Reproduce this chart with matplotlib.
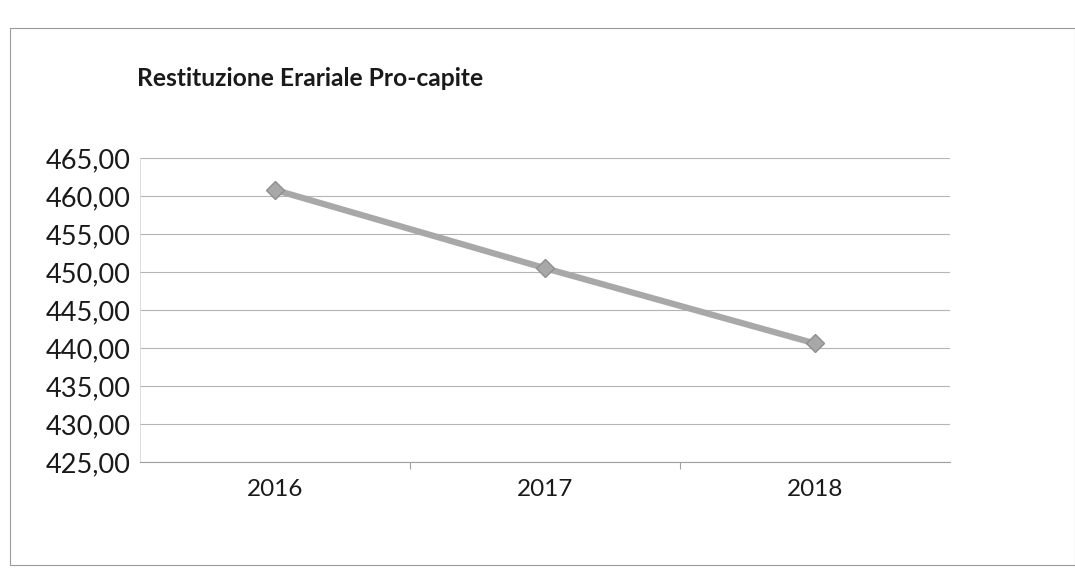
import matplotlib
matplotlib.use("Agg")
import matplotlib.pyplot as plt
from matplotlib.patches import Rectangle
from matplotlib.ticker import FixedLocator, FuncFormatter

years = ["2016", "2017", "2018"]
values = [460.8, 450.5, 440.6]
y_ticks = [425, 430, 435, 440, 445, 450, 455, 460, 465]
title = "Restituzione Erariale Pro-capite"

plt.rcParams['font.family'] = ['Lato', 'DejaVu Sans']

W, H = 1075, 575
fig = plt.figure(figsize=(W / 100, H / 100), dpi=100)
fig.patch.set_facecolor("white")

# outer chart border
fig.add_artist(Rectangle((10 / W, 1 - 565 / H), (1075 - 10) / W, (565 - 28) / H,
                         transform=fig.transFigure, fill=False,
                         edgecolor="#9a9a9a", linewidth=0.8))

ax = fig.add_axes([140 / W, 1 - 462 / H, (950 - 140) / W, (462 - 158) / H])
x = list(range(len(years)))
ax.plot(x, values, color="#a8a8a8", linewidth=4.5, marker="D", markersize=9,
        markerfacecolor="#a8a8a8", markeredgecolor="#8f8f8f", zorder=3)

ax.set_xlim(-0.5, len(years) - 0.5)
ax.set_ylim(min(y_ticks), max(y_ticks))
ax.yaxis.set_major_locator(FixedLocator(y_ticks))
ax.yaxis.set_major_formatter(FuncFormatter(lambda v, p: f"{v:.2f}".replace(".", ",")))
ax.set_xticks(x)
ax.set_xticklabels(years)
ax.set_xticks([i + 0.5 for i in x[:-1]], minor=True)

ax.grid(axis="y", color="#b5b5b5", linewidth=0.8)
ax.set_axisbelow(True)
for s in ["top", "right"]:
    ax.spines[s].set_visible(False)
ax.spines["left"].set_color("#d8d8d8")
ax.spines["left"].set_linewidth(0.6)
ax.spines["bottom"].set_color("#a0a0a0")
ax.spines["bottom"].set_linewidth(0.8)

ax.tick_params(axis="y", length=0, labelsize=19.5, pad=7, labelcolor="#1a1a1a")
ax.tick_params(axis="x", which="major", length=0, labelsize=17.5, pad=12, labelcolor="#1a1a1a")
ax.tick_params(axis="x", which="minor", length=5, color="#a0a0a0", width=0.8)

fig.text(137 / W, 1 - 78 / H, title, fontsize=17.7, fontweight="bold",
         color="#1a1a1a", va="center", ha="left")

fig.savefig("out.png", dpi=100, facecolor="white")
